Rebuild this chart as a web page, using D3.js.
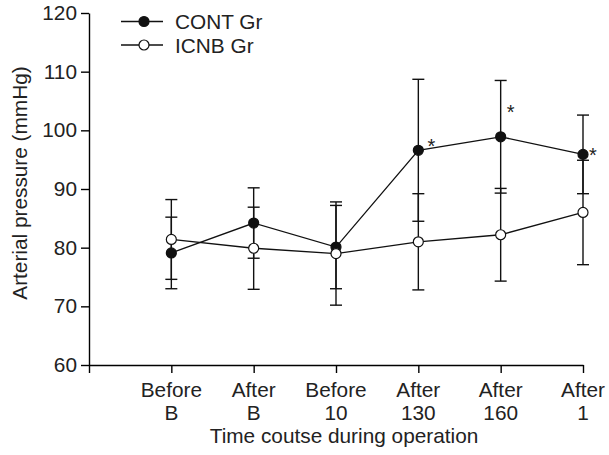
<!DOCTYPE html>
<html>
<head>
<meta charset="utf-8">
<script src="https://cdn.jsdelivr.net/npm/d3@7"></script>
<style>
  body { margin: 0; background: #fff; }
  svg { display: block; font-family: "Liberation Sans", Arial, sans-serif; }
</style>
</head>
<body>
<div id="container"></div>
<script>
/* DATA */
const categories = ["Before B", "After B", "Before 10", "After 130", "After 160", "After 1"];
const tickLines = [["Before", "B"], ["After", "B"], ["Before", "10"], ["After", "130"], ["After", "160"], ["After", "1"]];
const contMean = [79.1, 84.2, 80.1, 96.6, 98.9, 95.9];
const contSd   = [6.1, 6.0, 7.1, 12.1, 9.6, 6.7];
const icnbMean = [81.4, 79.9, 79.0, 81.0, 82.2, 86.0];
const icnbSd   = [6.8, 7.0, 8.8, 8.2, 7.9, 8.9];
const starred  = [false, false, false, true, true, true];
const yTicks   = [60, 70, 80, 90, 100, 110, 120];

/* SIZES */
const width = 609, height = 455;
const plot = { left: 89, right: 583, top: 13, bottom: 365 };
const fontSize = 20.8;

const svg = d3.select("#container")
  .append("svg")
  .attr("width", width)
  .attr("height", height);

/* SCALES */
const xScale = d3.scaleLinear()
  .domain([0, categories.length]) // position 0 is the axis origin
  .range([plot.left, plot.right]);

const yScale = d3.scaleLinear()
  .domain([60, 120])
  .range([plot.bottom, plot.top]);

// y axis
const yAxis = svg.append("g")
  .attr("transform", `translate(${plot.left},0)`)
  .call(d3.axisLeft(yScale).tickValues(yTicks).tickSize(8).tickPadding(4).tickSizeOuter(0));
yAxis.select(".domain").attr("stroke-width", 1.4);
yAxis.selectAll(".tick line").attr("stroke-width", 1.4);
yAxis.selectAll(".tick text")
  .attr("font-size", fontSize)
  .attr("font-family", "Liberation Sans, Arial, sans-serif")
  .attr("fill", "#222");

// x axis
const xAxis = svg.append("g")
  .attr("transform", `translate(0,${plot.bottom})`)
  .call(d3.axisBottom(xScale).tickValues(d3.range(0, categories.length + 1)).tickSize(8).tickFormat("").tickSizeOuter(0));
xAxis.select(".domain").attr("stroke-width", 1.4);
xAxis.selectAll(".tick line").attr("stroke-width", 1.4);

// two-line category labels
categories.forEach((c, i) => {
  const t = svg.append("text")
    .attr("x", xScale(i + 1))
    .attr("y", 397)
    .attr("text-anchor", "middle")
    .attr("font-size", fontSize)
    .attr("fill", "#222");
  tickLines[i].forEach((line, j) => {
    t.append("tspan")
      .attr("x", xScale(i + 1))
      .attr("dy", j === 0 ? 0 : 23)
      .text(line);
  });
});

// axis titles
svg.append("text")
  .attr("x", 344)
  .attr("y", 443)
  .attr("text-anchor", "middle")
  .attr("font-size", fontSize)
  .attr("fill", "#222")
  .text("Time coutse during operation");

svg.append("text")
  .attr("transform", `translate(27,183) rotate(-90)`)
  .attr("text-anchor", "middle")
  .attr("font-size", fontSize)
  .attr("fill", "#222")
  .text("Arterial pressure (mmHg)");

/* MARKS */
const series = [
  { name: "CONT Gr", mean: contMean, sd: contSd, fill: "#111" },
  { name: "ICNB Gr", mean: icnbMean, sd: icnbSd, fill: "#fff" }
];

// error bars
series.forEach(s => {
  const g = svg.append("g").attr("stroke", "#111").attr("stroke-width", 1.4);
  s.mean.forEach((m, i) => {
    const x = xScale(i + 1);
    g.append("line").attr("x1", x).attr("x2", x)
      .attr("y1", yScale(m + s.sd[i])).attr("y2", yScale(m - s.sd[i]));
    [m + s.sd[i], m - s.sd[i]].forEach(v => {
      g.append("line").attr("x1", x - 6).attr("x2", x + 6)
        .attr("y1", yScale(v)).attr("y2", yScale(v));
    });
  });
});

const line = d3.line()
  .x((d, i) => xScale(i + 1))
  .y(d => yScale(d));

series.forEach(s => {
  svg.append("path")
    .datum(s.mean)
    .attr("d", line)
    .attr("fill", "none")
    .attr("stroke", "#111")
    .attr("stroke-width", 1.3);

  svg.selectAll(null)
    .data(s.mean)
    .join("circle")
    .attr("cx", (d, i) => xScale(i + 1))
    .attr("cy", d => yScale(d))
    .attr("r", 5)
    .attr("fill", s.fill)
    .attr("stroke", "#111")
    .attr("stroke-width", 1.2);
});

// significance stars (offsets per point, as placed in the picture)
const starOffset = [null, null, null, [13, 3], [10, -18], [10, 8]];
contMean.forEach((m, i) => {
  if (!starred[i]) return;
  svg.append("text")
    .attr("x", xScale(i + 1) + starOffset[i][0])
    .attr("y", yScale(m) + starOffset[i][1])
    .attr("text-anchor", "middle")
    .attr("font-size", 20)
    .attr("fill", "#222")
    .text("*");
});

// legend
series.forEach((s, i) => {
  const y = 21.5 + i * 23.5;
  svg.append("line")
    .attr("x1", 121).attr("x2", 163)
    .attr("y1", y).attr("y2", y)
    .attr("stroke", "#111").attr("stroke-width", 1.3);
  svg.append("circle")
    .attr("cx", 144).attr("cy", y).attr("r", 5)
    .attr("fill", s.fill).attr("stroke", "#111").attr("stroke-width", 1.2);
  svg.append("text")
    .attr("x", 175).attr("y", y + 7.5)
    .attr("font-size", fontSize)
    .attr("fill", "#222")
    .text(s.name);
});
</script>
</body>
</html>
